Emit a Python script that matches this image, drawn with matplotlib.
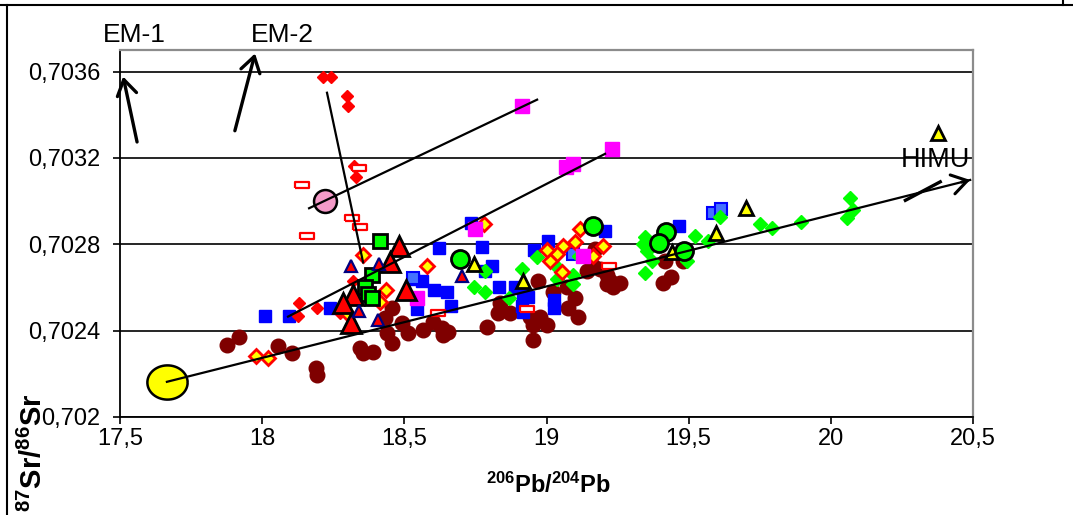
import numpy as np
import matplotlib
matplotlib.use("Agg")
import matplotlib.pyplot as plt
from matplotlib.lines import Line2D

plt.rcParams["font.family"] = ["Liberation Sans", "DejaVu Sans"]
plt.rcParams["mathtext.fontset"] = "custom"
plt.rcParams["mathtext.rm"] = "Liberation Sans"
plt.rcParams["mathtext.bf"] = "Liberation Sans:bold"

# --- data (206Pb/204Pb, 87Sr/86Sr) ---
maroon_x = [17.876, 17.919, 18.056, 18.105, 18.189, 18.193, 18.457, 18.432, 18.492, 18.513,
            18.439, 18.457, 18.344, 18.39, 18.355, 18.566, 18.601, 18.632, 18.654, 18.636,
            18.791, 18.836, 18.829, 18.872, 18.942, 18.977, 18.953, 19.002, 18.953, 18.97,
            19.023, 19.072, 19.1, 19.076, 19.111, 19.164, 19.171, 19.188, 19.213, 19.213,
            19.142, 19.223, 19.259, 19.234, 19.41, 19.438, 19.417, 19.48]
maroon_y = [0.702335, 0.702372, 0.70233, 0.702298, 0.702228, 0.702195, 0.702507, 0.70246, 0.702437, 0.702391,
            0.702391, 0.702344, 0.702321, 0.702302, 0.702298, 0.702405, 0.702442, 0.702414, 0.702395, 0.702381,
            0.702419, 0.70253, 0.702484, 0.702484, 0.702465, 0.702465, 0.702428, 0.702428, 0.702358, 0.702628,
            0.702581, 0.7026, 0.702553, 0.702507, 0.702465, 0.702698, 0.702777, 0.702684, 0.70266, 0.702614,
            0.702674, 0.702628, 0.702623, 0.7026, 0.702623, 0.702647, 0.702721, 0.702721]

blue_x = [18.01, 18.094, 18.239, 18.622, 18.531, 18.562, 18.604, 18.65, 18.664, 18.545,
          18.734, 18.773, 18.808, 18.784, 18.833, 18.889, 18.917, 18.935, 18.914, 18.917,
          19.005, 18.956, 19.026, 19.026, 19.206, 19.466]
blue_y = [0.70247, 0.70247, 0.702507, 0.702781, 0.702637, 0.702628, 0.702586, 0.702577, 0.702512, 0.702498,
          0.702898, 0.702786, 0.702698, 0.702674, 0.7026, 0.7026, 0.702567, 0.702558, 0.702512, 0.702488,
          0.702814, 0.702772, 0.702544, 0.702507, 0.70286, 0.702884]

ltblue_x = [19.585, 19.614, 19.093, 18.531]
ltblue_y = [0.702944, 0.702963, 0.702753, 0.702646]

lime_x = [18.745, 18.784, 18.784, 18.914, 18.868, 18.967, 19.037, 19.037, 19.093, 19.093,
          19.114, 19.347, 19.34, 19.354, 19.371, 19.347, 19.522, 19.568, 19.494, 19.61,
          19.751, 19.793, 19.895, 20.068, 20.078, 20.057]
lime_y = [0.7026, 0.702674, 0.702577, 0.702684, 0.702553, 0.70274, 0.702693, 0.702637, 0.70266, 0.702614,
          0.702744, 0.702833, 0.7028, 0.702767, 0.702721, 0.702665, 0.702837, 0.702814, 0.702721, 0.702926,
          0.702893, 0.702874, 0.702902, 0.703014, 0.702958, 0.702921]

reddia_x = [18.214, 18.242, 18.298, 18.302, 18.323, 18.33, 18.13, 18.126, 18.193, 18.32, 18.274]
reddia_y = [0.703577, 0.703577, 0.703488, 0.703442, 0.703163, 0.703112, 0.702526, 0.70247, 0.702507,
            0.702628, 0.702484]

ydia_x = [17.978, 18.021, 18.355, 18.58, 18.436, 18.415, 18.78, 19.118, 19.1, 19.058,
          19.037, 19.012, 19.002, 19.199, 19.164, 19.055, 18.298]
ydia_y = [0.702284, 0.702274, 0.702749, 0.702698, 0.702586, 0.702535, 0.702893, 0.70287, 0.702809, 0.702791,
          0.702753, 0.702721, 0.702772, 0.702791, 0.702744, 0.70267, 0.702484]

rect_x = [18.14, 18.341, 18.316, 18.344, 18.158, 18.619, 18.932, 19.22]
rect_y = [0.703074, 0.703153, 0.702921, 0.702879, 0.702837, 0.702484, 0.702498, 0.702698]

magenta_x = [18.914, 19.069, 19.093, 19.231, 18.749, 18.545, 19.128]
magenta_y = [0.703442, 0.703158, 0.703172, 0.703242, 0.70287, 0.702549, 0.702744]

gsq_x = [18.415, 18.386, 18.362, 18.372, 18.386]
gsq_y = [0.702814, 0.702656, 0.7026, 0.702572, 0.702553]

redtri_x = [18.481, 18.45, 18.506, 18.32, 18.284, 18.313]
redtri_y = [0.702791, 0.702716, 0.702586, 0.702563, 0.702526, 0.702437]

navytri_x = [18.313, 18.411, 18.341, 18.407, 18.703]
navytri_y = [0.702698, 0.702707, 0.702493, 0.702451, 0.702651]

ytri_x = [18.745, 18.917, 19.441, 19.596, 19.702, 20.377]
ytri_y = [0.702707, 0.702628, 0.702763, 0.702851, 0.702967, 0.703316]

gcirc_x = [18.696, 19.164, 19.421, 19.396, 19.484]
gcirc_y = [0.70273, 0.702884, 0.702856, 0.702805, 0.702767]

pink_x, pink_y = [18.221], [0.703]
yellow_x, yellow_y = [17.665], [0.702163]

# trend lines (start, end)
line_b = ([18.091, 19.206], [0.702465, 0.703219])
line_c = ([18.165, 18.967], [0.702967, 0.70347])
line_d = ([18.228, 18.355], [0.703502, 0.702716])
himu_line = ([17.665, 20.49], [0.702163, 0.703098])
himu_stroke = ([20.257, 20.39], [0.703, 0.703093])
em1_arrow = ((17.56, 0.703274), (17.511, 0.703577))
em2_arrow = ((17.904, 0.703326), (17.975, 0.703684))

yticks = [0.702, 0.7024, 0.7028, 0.7032, 0.7036]
ytick_labels = ["0,702", "0,7024", "0,7028", "0,7032", "0,7036"]
xticks = [17.5, 18, 18.5, 19, 19.5, 20, 20.5]
xtick_labels = ["17,5", "18", "18,5", "19", "19,5", "20", "20,5"]

W, H = 1073, 515
fig = plt.figure(figsize=(W / 100, H / 100), dpi=100)
ax = fig.add_axes([120 / W, 1 - 417 / H, (973 - 120) / W, (417 - 50) / H])
ax.set_xlim(17.5, 20.5)
ax.set_ylim(0.702, 0.7037)

ax.set_yticks(yticks)
ax.set_yticklabels(ytick_labels)
ax.set_xticks(xticks)
ax.set_xticklabels(xtick_labels)
ax.tick_params(axis="both", direction="out", length=5, width=1.2, labelsize=17, color="black")
ax.tick_params(axis="y", pad=9)
ax.tick_params(axis="x", pad=3)
ax.yaxis.grid(True, color="black", lw=1.2)
ax.set_axisbelow(True)
for s in ["left", "bottom"]:
    ax.spines[s].set_color("black")
    ax.spines[s].set_linewidth(1.3)
for s in ["top", "right"]:
    ax.spines[s].set_color("#8c8c8c")
    ax.spines[s].set_linewidth(1.6)

# markers
ax.plot(maroon_x, maroon_y, "o", ms=10.5, color="#7f0000", mec="#7f0000", zorder=3)
ax.plot(blue_x, blue_y, "s", ms=8.5, color="#0000ff", mec="#0000ff", zorder=4)
ax.plot(ltblue_x, ltblue_y, "s", ms=8, color="#4472ff", mec="#0000ff", mew=1.5, zorder=4)
ax.plot(lime_x, lime_y, "D", ms=7, color="#00ff00", mec="#00ff00", zorder=4)
ax.plot(reddia_x, reddia_y, "D", ms=6, color="#ff0000", mec="#ff0000", zorder=4)
ax.plot(ydia_x, ydia_y, "D", ms=7.5, color="#ffff00", mec="#ff0000", mew=2, zorder=4)
rect_marker = [(-1, -0.38), (1, -0.38), (1, 0.38), (-1, 0.38), (-1, -0.38)]
ax.plot(rect_x, rect_y, ls="none", marker=rect_marker, ms=10, mfc="white", mec="#ff0000", mew=1.6, zorder=5)
ax.plot(magenta_x, magenta_y, "s", ms=10, color="#ff00ff", mec="#ff00ff", zorder=5)
ax.plot(gsq_x, gsq_y, "s", ms=10.5, color="#00ff00", mec="black", mew=2, zorder=6)
ax.plot(redtri_x, redtri_y, "^", ms=14, color="#ff0000", mec="black", mew=2, zorder=6)
ax.plot(navytri_x, navytri_y, "^", ms=8, color="#ff0000", mec="#000080", mew=1.6, zorder=6)
ax.plot(ytri_x, ytri_y, "^", ms=9.5, color="#ffff00", mec="black", mew=2, zorder=6, clip_on=False)
ax.plot(gcirc_x, gcirc_y, "o", ms=13, color="#00ff00", mec="black", mew=2, zorder=6)
ax.plot(pink_x, pink_y, "o", ms=16.5, color="#f49ac8", mec="black", mew=1.8, zorder=6)
t = np.linspace(0, 2 * np.pi, 60)
ellipse_marker = list(zip(np.cos(t), 0.85 * np.sin(t)))
ax.plot(yellow_x, yellow_y, ls="none", marker=ellipse_marker, ms=29, mfc="#ffff00", mec="black", mew=1.8, zorder=6)

# trend lines
for xs, ys in [line_b, line_c, line_d, himu_line]:
    ax.plot(xs, ys, color="black", lw=1.6, zorder=10)
ax.plot(*himu_stroke, color="black", lw=2.4, zorder=10, solid_capstyle="butt")

head = "->,head_length=1.1,head_width=0.7"
tip = (himu_line[0][1], himu_line[1][1])
pre = (tip[0] - 0.03, tip[1] - 0.03 * (himu_line[1][1] - himu_line[1][0]) / (himu_line[0][1] - himu_line[0][0]))
ax.annotate("", xy=tip, xytext=pre, annotation_clip=False, zorder=11,
            arrowprops=dict(arrowstyle=head, lw=2.2, color="black", mutation_scale=10, shrinkA=0, shrinkB=0))
for tail, tip_ in [em1_arrow, em2_arrow]:
    ax.annotate("", xy=tip_, xytext=tail, annotation_clip=False, zorder=11,
                arrowprops=dict(arrowstyle=head, lw=2.4, color="black", mutation_scale=10, shrinkA=0, shrinkB=0))

ax.text(17.549, 0.70377, "EM-1", fontsize=19, ha="center", va="center", clip_on=False)
ax.text(18.07, 0.70377, "EM-2", fontsize=19, ha="center", va="center", clip_on=False)
ax.text(20.49, 0.703191, "HIMU", fontsize=19.5, ha="right", va="center", zorder=12)

fig.text(548 / W, 1 - 485 / H, r"$\mathbf{{}^{206}Pb/{}^{204}Pb}$", fontsize=17, ha="center", va="center")
fig.text(33 / W, 1 - 453 / H, r"$\mathbf{{}^{87}Sr/{}^{86}Sr}$", fontsize=21, ha="center", va="center",
         rotation=90)

# outer frame pieces
fig.add_artist(Line2D([0, 1], [1 - 5 / H, 1 - 5 / H], transform=fig.transFigure, color="black", lw=1.5))
fig.add_artist(Line2D([7 / W, 7 / W], [0, 1 - 5 / H], transform=fig.transFigure, color="black", lw=1.5))
fig.add_artist(Line2D([1063 / W, 1063 / W], [1 - 5 / H, 1], transform=fig.transFigure, color="black", lw=1.5))

fig.savefig("out.png", dpi=100)
